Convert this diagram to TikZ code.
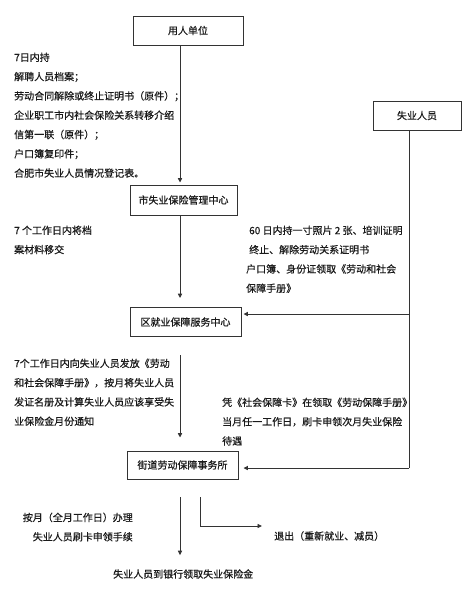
\documentclass[tikz,border=0pt]{standalone}
\usepackage{fontspec}
\setmainfont{Noto Sans CJK SC}[FakeBold=0.5]
\usetikzlibrary{arrows.meta}
\definecolor{lc}{HTML}{333333}
\definecolor{tx}{HTML}{1A1A1A}
\begin{document}
\begin{tikzpicture}[x=1pt,y=-1pt,
  every node/.style={inner sep=0pt, text=tx, font=\fontsize{10}{19.3}\selectfont},
  box/.style={draw=lc, line width=0.9pt, minimum height=29pt},
  note/.style={anchor=north west, align=left},
  wire/.style={draw=lc, line width=0.9pt},
  arr/.style={draw=lc, line width=0.9pt, -{Triangle[length=4.5pt,width=4.2pt]}}]
\useasboundingbox[fill=white] (0,0) rectangle (472,589);

% boxes
\node[box, minimum width=110pt] (yr) at (188,30.5) {用人单位};
\node[box, minimum width=107pt, minimum height=30pt] (shi) at (183.5,200) {市失业保险管理中心};
\node[box, minimum width=111pt] (qu) at (185.5,322) {区就业保障服务中心};
\node[box, minimum width=111pt, minimum height=28pt] (jd) at (182.5,465) {街道劳动保障事务所};
\node[box, minimum width=88pt] (sy) at (417,115.5) {失业人员};

% notes
\node[note] (n1) at (14,52.5) {7日内持\\解聘人员档案；\\劳动合同解除或终止证明书（原件）；\\企业职工市内社会保险关系转移介绍\\信第一联（原件）；\\户口簿复印件；\\合肥市失业人员情况登记表。};
\node[note] (n2) at (14,225.5) {7 个工作日内将档\\案材料移交};
\node[note] (n3) at (246,225.5) {\hspace{3pt}60 日内持一寸照片 2 张、培训证明\\\hspace{3pt}终止、解除劳动关系证明书\\户口簿、身份证领取《劳动和社会\\保障手册》};
\node[note] (n4) at (14,358.5) {7个工作日内向失业人员发放《劳动\\和社会保障手册》，按月将失业人员\\发证名册及计算失业人员应该享受失\\业保险金月份通知};
\node[note] (n5) at (222,397.5) {凭《社会保障卡》在领取《劳动保障手册》\\当月任一工作日，刷卡申领次月失业保险\\待遇};
\node[anchor=north east, align=right] (n6) at (133,512.5) {按月（全月工作日）办理\\失业人员刷卡申领手续};
\node[anchor=west] (tc) at (274,536) {退出（重新就业、减员）};
\node[anchor=west] (bank) at (113,574) {失业人员到银行领取失业保险金};

% helper coordinates
\coordinate (vx) at (180,0);
\coordinate (sx) at (409,0);
\coordinate (t1) at (409,314);
\coordinate (t2) at (409,468);
\coordinate (a5) at (180,355);
\coordinate (a6) at (180,497);
\coordinate (b1) at (200,497);
\coordinate (b2) at (200,526);

% connectors
\draw[arr, shorten >=2pt] (vx |- yr.south) -- (vx |- shi.north);
\draw[arr, shorten >=9pt] (vx |- shi.south) -- (vx |- qu.north);
\draw[wire] (sx |- sy.south) -- (t2);
\draw[arr, shorten >=2pt] (t1) -- (qu.east |- t1);
\draw[arr, shorten >=5pt] (t2) -- (jd.east |- t2);
\draw[arr, shorten >=13pt] (a5) -- (vx |- jd.north);
\draw[arr, shorten >=14pt] (a6) -- (vx |- bank.north);
\draw[arr, shorten >=12pt] (b1) -- (b2) -- (tc.west |- b2);
\end{tikzpicture}
\end{document}
